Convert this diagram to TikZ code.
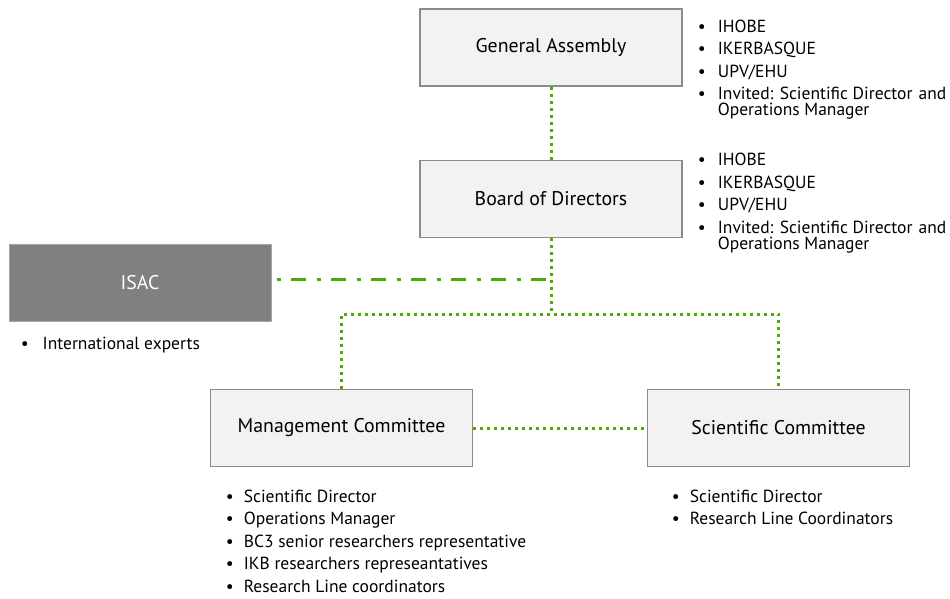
\documentclass[tikz,border=0pt]{standalone}
\usepackage{fontspec}
\setmainfont{PT Sans}
\usetikzlibrary{positioning}
\definecolor{boxfill}{HTML}{F2F2F2}
\definecolor{boxline}{HTML}{8C8C8C}
\definecolor{isacgray}{HTML}{808080}
\definecolor{linkgreen}{HTML}{4CAA00}
\renewcommand{\arraystretch}{1.4}

\begin{document}
\begin{tikzpicture}[x=1pt,y=-1pt,
  body/.style={draw=boxline,fill=boxfill,line width=1.5pt,minimum width=262pt,
    minimum height=77pt,inner sep=0pt,font=\fontsize{19.8}{22}\selectfont},
  advisory/.style={body,draw=isacgray!70,fill=isacgray,line width=0.8pt,text=white},
  members/.style={anchor=north west,inner sep=0pt,font=\fontsize{17.5}{16}\selectfont},
  link/.style={draw=linkgreen,line width=3pt,dash pattern=on 3pt off 4pt},
  isaclink/.style={draw=linkgreen,line width=3pt,dash pattern=on 3.5pt off 10.5pt on 15pt off 11pt}]
  \useasboundingbox (0,0) rectangle (950,598);

  % bodies
  \node[body] (ga) at (551,47.5) {General Assembly};
  \node[body] (bod) at (551,199) {Board of Directors};
  \node[advisory] (isac) at (140,283) {ISAC};
  \node[body] (mc) at (341.5,428) {Management Committee};
  \node[body] (sc) at (778.5,428) {Scientific Committee};

  % who sits in each body
  \node[members] (gaList) at ([shift={(15,8.3)}]ga.north east) {%
    \begin{tabular}{@{}l@{\hspace{12pt}}l@{}}
      \textbullet & IHOBE\\
      \textbullet & IKERBASQUE\\
      \textbullet & UPV/EHU\\
      \textbullet & \parbox[t]{240pt}{Invited: Scientific Director\hspace{1.5pt} and\\Operations Manager}
    \end{tabular}};
  \node[members] (bodList) at ([shift={(15,-9.7)}]bod.north east) {%
    \begin{tabular}{@{}l@{\hspace{12pt}}l@{}}
      \textbullet & IHOBE\\
      \textbullet & IKERBASQUE\\
      \textbullet & UPV/EHU\\
      \textbullet & \parbox[t]{240pt}{Invited: Scientific Director\hspace{1.5pt} and\\Operations Manager}
    \end{tabular}};
  \node[members] (isacList) at ([shift={(12,11.3)}]isac.south west) {%
    \begin{tabular}{@{}l@{\hspace{14pt}}l@{}}
      \textbullet & International experts
    \end{tabular}};
  \node[members] (mcList) at ([shift={(16,19.3)}]mc.south west) {%
    \begin{tabular}{@{}l@{\hspace{10pt}}l@{}}
      \textbullet & Scientific Director\\
      \textbullet & Operations Manager\\
      \textbullet & BC3 senior researchers representative\\
      \textbullet & IKB researchers represeantatives\\
      \textbullet & Research Line coordinators
    \end{tabular}};
  \node[members] (scList) at ([shift={(25,19.3)}]sc.south west) {%
    \begin{tabular}{@{}l@{\hspace{10pt}}l@{}}
      \textbullet & Scientific Director\\
      \textbullet & Research Line Coordinators
    \end{tabular}};

  % connectors
  \coordinate (hub) at (551,314);
  \coordinate (isacJoin) at (551,279);
  \draw[link] (ga) -- (bod);
  \draw[link] (bod) -- (hub);
  \draw[link] (mc.north) |- (hub) -| (sc.north);
  \draw[link] (mc) -- (sc);
  \draw[isaclink] ([shift={(6,-4)}]isac.east) -- (isacJoin);
\end{tikzpicture}
\end{document}
